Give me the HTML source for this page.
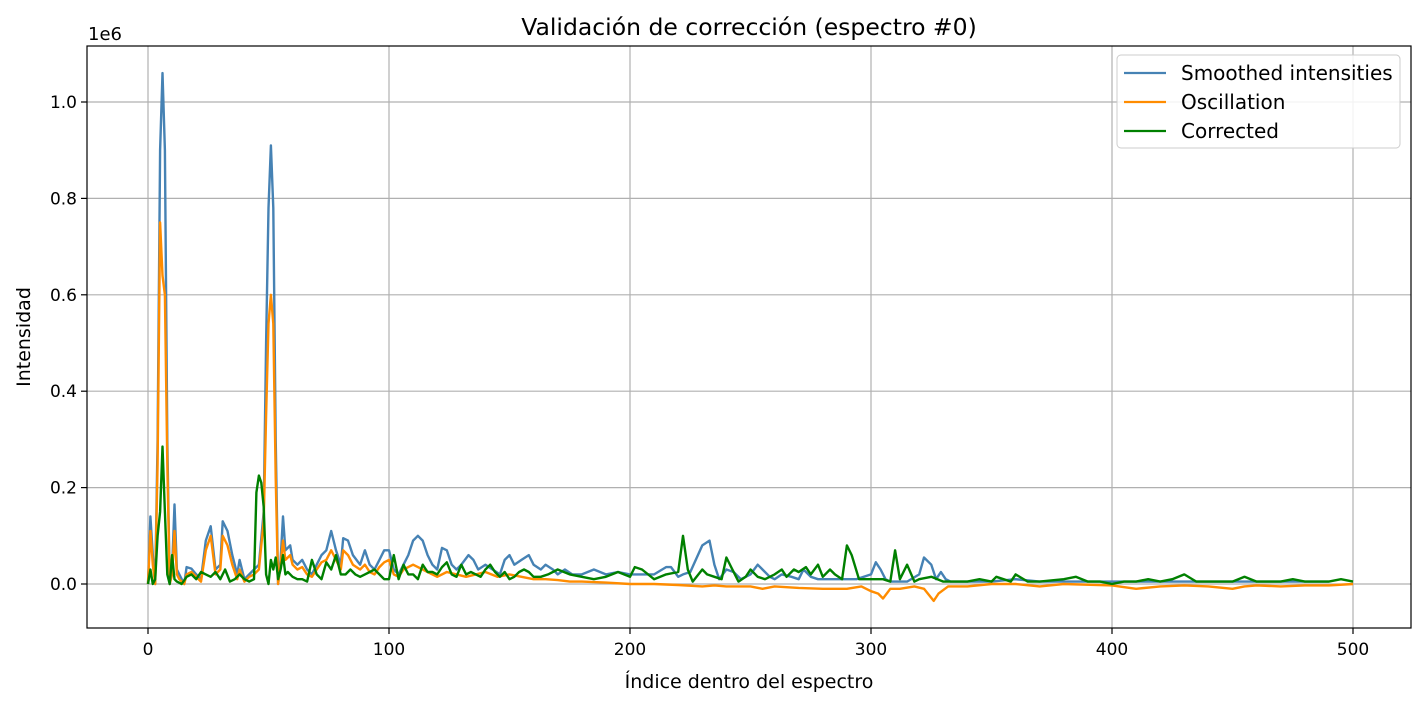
<!DOCTYPE html>
<html><head><meta charset="utf-8">
<style>
html,body{margin:0;padding:0;background:#fff;}
svg text{font-family:"DejaVu Sans","Liberation Sans",sans-serif;fill:#000;}
</style></head>
<body>
<svg id="chart" width="1425" height="705" xmlns="http://www.w3.org/2000/svg">
<rect x="0" y="0" width="1425" height="705" fill="#fff"/>
<g id="grid"></g>
<g id="series"></g>
<rect x="87" y="46" width="1324" height="582" fill="none" stroke="#000" stroke-width="1.2"/>
<g id="ticks"></g>
<text x="749" y="35" font-size="23.5" text-anchor="middle">Validación de corrección (espectro #0)</text>
<text x="749" y="688" font-size="19" text-anchor="middle">Índice dentro del espectro</text>
<text x="30" y="337" font-size="19" text-anchor="middle" transform="rotate(-90 30 337)">Intensidad</text>
<text x="88" y="40" font-size="18">1e6</text>
<g>
<rect x="1117" y="55" width="283" height="93" rx="4" fill="#fff" fill-opacity="0.85" stroke="#ccc"/>
<line x1="1124" y1="73" x2="1166" y2="73" stroke="#4682b4" stroke-width="2.2"/>
<text x="1181" y="80" font-size="20">Smoothed intensities</text>
<line x1="1124" y1="102" x2="1166" y2="102" stroke="#ff8c00" stroke-width="2.2"/>
<text x="1181" y="109" font-size="20">Oscillation</text>
<line x1="1124" y1="131" x2="1166" y2="131" stroke="#008000" stroke-width="2.2"/>
<text x="1181" y="138" font-size="20">Corrected</text>
</g>
</svg>
<script>
const xTicks=[0,100,200,300,400,500];
const yTicks=[0,0.2,0.4,0.6,0.8,1.0];
const yTickLabels=["0.0","0.2","0.4","0.6","0.8","1.0"];
// values in thousands
const smoothedX=[0,1,2,3,4,5,6,7,8,9,10,11,12,13,15,16,18,20,22,24,26,28,30,31,33,35,37,38,40,42,44,46,48,49,50,51,52,53,54,55,56,57,59,60,62,64,66,68,70,72,74,76,78,80,81,83,85,88,90,92,94,96,98,100,102,104,106,108,110,112,114,116,118,120,122,124,126,128,130,133,135,137,140,143,146,148,150,152,155,158,160,163,165,168,170,173,176,180,185,190,195,200,205,210,215,217,220,222,225,230,233,235,237,240,243,246,250,253,255,258,260,263,267,270,272,275,278,280,285,290,294,300,302,304,306,308,310,315,320,322,325,327,329,331,333,340,350,360,370,380,390,400,410,420,430,440,450,460,470,480,490,500];
const smoothedY=[0,140,60,0,300,900,1060,900,300,0,30,165,30,20,0,35,32,20,10,90,120,30,40,130,110,60,20,50,10,20,30,40,150,500,780,910,780,300,0,50,140,70,80,50,40,50,30,20,40,60,70,110,70,40,95,90,60,40,70,40,30,50,70,70,30,20,40,60,90,100,90,60,40,30,75,70,40,30,40,60,50,30,40,30,20,50,60,40,50,60,40,30,40,30,20,30,20,20,30,20,25,20,20,20,35,35,15,20,25,80,90,40,10,30,25,10,20,40,30,15,10,20,15,10,30,15,10,10,10,10,10,20,45,30,10,5,5,5,20,55,40,10,25,10,5,5,5,10,5,5,5,5,5,5,5,5,5,5,5,5,5];
const oscX=[0,1,2,3,4,5,6,7,8,9,10,11,12,13,15,16,18,20,22,24,26,28,30,31,33,35,37,38,40,42,44,46,48,49,50,51,52,53,54,55,56,57,59,60,62,64,66,68,70,72,74,76,78,80,81,83,85,88,90,92,94,96,98,100,102,104,106,108,110,112,114,116,118,120,124,128,132,136,140,145,150,155,160,165,170,175,180,190,200,210,220,230,235,240,250,255,260,270,280,290,296,300,303,305,308,312,318,322,326,328,332,340,350,360,370,380,400,410,420,430,440,450,455,460,470,480,490,500];
const oscY=[0,110,40,0,250,750,640,600,250,0,20,110,20,10,0,20,25,15,5,70,100,20,30,100,80,40,10,30,5,15,20,30,130,350,540,600,540,220,0,40,90,50,60,40,30,35,20,15,30,45,50,70,50,30,70,60,40,30,40,25,20,35,45,50,20,15,30,35,40,35,30,25,20,15,25,20,15,20,25,15,20,15,10,10,8,5,5,3,0,0,-2,-5,-3,-5,-5,-10,-5,-8,-10,-10,-5,-15,-20,-30,-10,-10,-5,-10,-35,-20,-5,-5,0,0,-5,0,-3,-10,-5,-3,-5,-10,-5,-3,-5,-3,-3,0];
const corrX=[0,1,2,3,4,5,6,7,8,9,10,11,12,14,16,18,20,22,24,26,28,30,32,34,36,38,40,42,44,45,46,47,48,49,50,51,52,53,54,55,56,57,58,60,62,64,66,68,70,72,74,76,78,80,82,84,86,88,90,92,94,96,98,100,102,104,106,108,110,112,114,116,118,120,122,124,126,128,130,132,134,136,138,140,142,144,146,148,150,152,154,156,158,160,163,166,170,175,180,185,190,195,200,202,205,210,215,220,222,224,226,230,232,235,238,240,242,245,248,250,253,256,260,263,265,268,270,273,275,278,280,283,285,288,290,292,295,300,305,308,310,312,315,318,320,325,330,335,340,345,350,352,355,358,360,365,370,380,385,390,395,400,405,410,415,420,425,430,435,440,445,450,455,460,465,470,475,480,485,490,495,500];
const corrY=[0,30,0,10,100,150,285,150,20,0,60,10,5,0,15,20,10,25,20,15,25,10,30,5,10,20,10,5,10,190,225,210,160,20,0,50,30,55,10,30,60,20,25,15,10,10,5,50,20,10,45,30,60,20,20,30,20,15,20,25,30,20,10,10,60,10,40,20,20,10,40,25,25,20,35,45,20,15,40,20,25,20,15,30,40,25,15,25,10,15,25,30,25,15,15,20,30,20,15,10,15,25,15,35,30,10,20,25,100,30,5,30,20,15,10,55,35,5,15,30,15,10,20,30,15,30,25,35,20,40,15,30,20,10,80,60,10,10,10,5,70,10,40,5,10,15,5,5,5,10,5,15,10,5,20,5,5,10,15,5,5,0,5,5,10,5,10,20,5,5,5,5,15,5,5,5,10,5,5,5,10,5];

const x=v=>148+v*(1353-148)/500;
const y=v=>584-v*482;
const NS="http://www.w3.org/2000/svg";
const grid=document.getElementById('grid'),ticks=document.getElementById('ticks'),ser=document.getElementById('series');
function mk(tag,attrs,parent){const e=document.createElementNS(NS,tag);for(const k in attrs)e.setAttribute(k,attrs[k]);parent.appendChild(e);return e;}
xTicks.forEach(t=>{
  const gl=mk('line',{x1:x(t),x2:x(t),y1:46,y2:628,stroke:'#b0b0b0','stroke-width':1.2},grid);
  
  
  const tk=mk('line',{x1:x(t),x2:x(t),y1:628,y2:634,stroke:'#000','stroke-width':1.2},ticks);
  
  
  const tl=mk('text',{x:x(t),y:655,'font-size':17,'text-anchor':'middle'},ticks);tl.textContent=t;
  
  
});
yTicks.forEach((t,i)=>{
  const gl=mk('line',{x1:87,x2:1411,y1:y(t),y2:y(t),stroke:'#b0b0b0','stroke-width':1.2},grid);
  
  
  const tk=mk('line',{x1:81,x2:87,y1:y(t),y2:y(t),stroke:'#000','stroke-width':1.2},ticks);
  
  
  const tl=mk('text',{x:77,y:y(t)+6,'font-size':17,'text-anchor':'end'},ticks);tl.textContent=yTickLabels[i];
  
  
});
function line(xs,ys,color,name){
  const d=xs.map((v,i)=>(i?'L':'M')+x(v).toFixed(1)+','+y(ys[i]/1000).toFixed(1)).join('');
  const p=mk('path',{d:d,fill:'none',stroke:color,'stroke-width':2.4,'stroke-linejoin':'round'},ser);
  
  
}
line(smoothedX,smoothedY,'#4682b4','smoothed-line');
line(oscX,oscY,'#ff8c00','oscillation-line');
line(corrX,corrY,'#008000','corrected-line');
</script>
</body></html>
